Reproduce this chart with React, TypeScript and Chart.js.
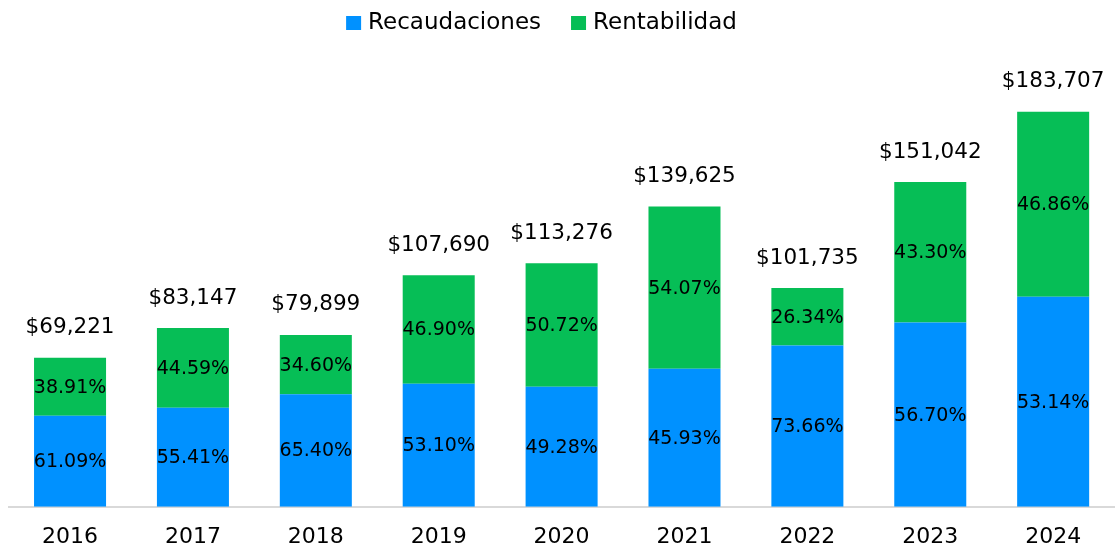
import React, { useEffect, useRef } from "react";
import { Chart, registerables } from "chart.js";

Chart.register(...registerables);

const years = ["2016", "2017", "2018", "2019", "2020", "2021", "2022", "2023", "2024"];
const totals = [69221, 83147, 79899, 107690, 113276, 139625, 101735, 151042, 183707];
const recaudaciones = [42287, 46072, 52254, 57183, 55822, 64130, 74938, 85641, 97622];
const rentabilidad = [26934, 37075, 27645, 50507, 57454, 75495, 26797, 65401, 86085];
const recPct = ["61.09%", "55.41%", "65.40%", "53.10%", "49.28%", "45.93%", "73.66%", "56.70%", "53.14%"];
const renPct = ["38.91%", "44.59%", "34.60%", "46.90%", "50.72%", "54.07%", "26.34%", "43.30%", "46.86%"];

const FONT = "'DejaVu Sans', sans-serif";
const BLUE = "#0091FF";
const GREEN = "#06BE56";

const labelsPlugin = {
  id: "barLabels",
  afterDatasetsDraw(chart: any) {
    const ctx = chart.ctx;
    ctx.save();
    ctx.fillStyle = "#000";
    ctx.textAlign = "center";
    ctx.textBaseline = "middle";
    ctx.font = `19px ${FONT}`;
    const pctSets = [recPct, renPct];
    chart.data.datasets.forEach((_: any, di: number) => {
      const meta = chart.getDatasetMeta(di);
      meta.data.forEach((bar: any, i: number) => {
        const mid = (bar.y + bar.base) / 2;
        ctx.fillText(pctSets[di][i], bar.x, mid + 1);
      });
    });
    const top = chart.getDatasetMeta(1);
    ctx.font = `21.5px ${FONT}`;
    top.data.forEach((bar: any, i: number) => {
      ctx.fillText("$" + totals[i].toLocaleString("en-US"), bar.x, bar.y - 30);
    });
    ctx.restore();
  },
};

const legendPlugin = {
  id: "customLegend",
  afterDraw(chart: any) {
    const ctx = chart.ctx;
    ctx.save();
    ctx.font = `23px ${FONT}`;
    ctx.textBaseline = "middle";
    ctx.textAlign = "left";
    const box = 15;
    const gap = 7;
    const itemGap = 30;
    const items = chart.data.datasets.map((d: any) => ({
      text: d.label,
      color: d.backgroundColor,
      w: box + gap + ctx.measureText(d.label).width,
    }));
    const total = items.reduce((s: number, it: any) => s + it.w, 0) + itemGap * (items.length - 1);
    let x = 541.5 - total / 2;
    const cy = 23;
    items.forEach((it: any) => {
      ctx.fillStyle = it.color;
      ctx.fillRect(x, cy - 7, box, 14);
      ctx.fillStyle = "#000";
      ctx.fillText(it.text, x + box + gap, cy);
      x += it.w + itemGap;
    });
    ctx.restore();
  },
};

export default function App() {
  const ref = useRef<HTMLCanvasElement>(null);
  useEffect(() => {
    document.body.style.margin = "0";
    const chart = new Chart(ref.current!, {
      type: "bar",
      data: {
        labels: years,
        datasets: [
          { label: "Recaudaciones", data: recaudaciones, backgroundColor: BLUE, borderWidth: 0 },
          { label: "Rentabilidad", data: rentabilidad, backgroundColor: GREEN, borderWidth: 0 },
        ],
      },
      options: {
        animation: false,
        responsive: true,
        maintainAspectRatio: false,
        datasets: { bar: { categoryPercentage: 1, barPercentage: 0.586 } },
        layout: { padding: { left: 8.6, right: 0.4, top: 76.7, bottom: 0 } },
        plugins: {
          legend: { display: false },
          tooltip: { enabled: false },
        },
        scales: {
          x: {
            stacked: true,
            grid: { display: false, drawTicks: false },
            border: { display: true, color: "#D9D9D9", width: 2 },
            ticks: { font: { family: FONT, size: 22 }, color: "#000", padding: 17 },
            afterFit: (scale: any) => {
              scale.height = 40.3;
            },
          },
          y: { stacked: true, display: false, min: 0, max: 200000 },
        },
      },
      plugins: [labelsPlugin, legendPlugin],
    });
    return () => chart.destroy();
  }, []);
  return (
    <div style={{ position: "absolute", left: 0, top: 0, width: 1115, height: 547 }}>
      <canvas ref={ref} />
    </div>
  );
}
